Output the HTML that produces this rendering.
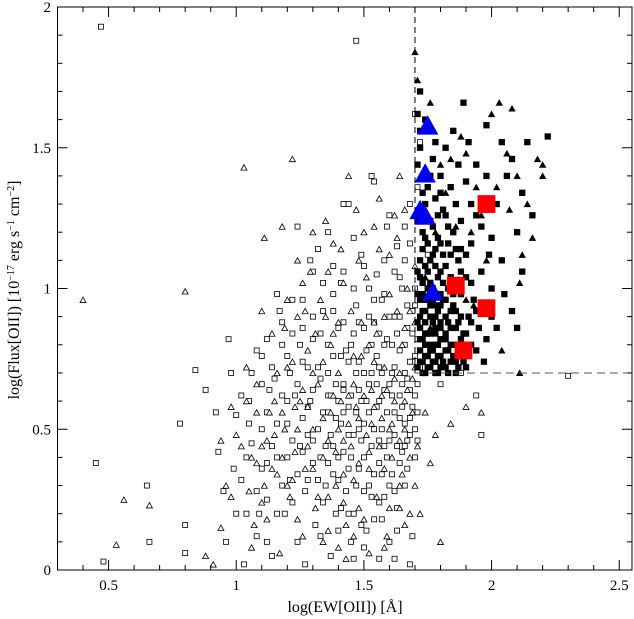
<!DOCTYPE html>
<html><head><meta charset="utf-8"><style>
html,body{margin:0;padding:0;background:#fff;}
svg{display:block;font-family:"Liberation Serif",serif;}
</style></head><body>
<svg id="chart" width="634" height="619" viewBox="0 0 634 619" xmlns="http://www.w3.org/2000/svg">
<g id="marks"></g>
<g id="axes"></g>
<text x="345" y="612" font-size="16" text-anchor="middle">log(EW[OII]) [Å]</text>
<text transform="translate(19,290) rotate(-90)" font-size="16" text-anchor="middle">log(Flux[OII]) [10<tspan baseline-shift="super" font-size="10">−17</tspan> erg s<tspan baseline-shift="super" font-size="10">−1</tspan> cm<tspan baseline-shift="super" font-size="10">−2</tspan>]</text>
</svg>
<script>
const xTicks=[0.5,1,1.5,2,2.5];
const xTickLabels=["0.5","1","1.5","2","2.5"];
const yTicks=[0,0.5,1,1.5,2];
const yTickLabels=["0","0.5","1","1.5","2"];
const openSquares=[[0.47,1.93],[1.47,1.88],[0.45,0.38],[0.48,0.03],[0.65,0.30],[0.66,0.10],[0.78,0.52],[0.80,0.06],[0.80,0.16],[0.84,0.71],[0.88,0.64],[0.93,0.42],[0.95,0.28],[0.97,0.82],[0.98,0.70],[1.00,0.55],[1.02,0.32],[1.03,0.02],[1.05,0.60],[1.06,0.45],[1.08,0.12],[1.08,0.78],[1.10,0.36],[1.12,0.25],[1.12,0.56],[1.14,0.05],[1.15,0.68],[1.16,0.40],[1.18,0.88],[1.19,0.20],[1.20,0.52],[1.21,0.32],[1.22,0.96],[1.23,0.62],[1.24,0.10],[1.25,0.44],[1.26,0.74],[1.27,0.28],[1.28,0.58],[1.29,1.10],[1.30,0.38],[1.30,0.82],[1.31,0.16],[1.32,0.50],[1.33,0.68],[1.34,0.92],[1.34,0.24],[1.35,0.44],[1.36,0.62],[1.36,1.20],[1.37,0.05],[1.38,0.34],[1.38,0.76],[1.39,0.54],[1.40,0.86],[1.40,0.14],[1.41,1.02],[1.42,0.42],[1.42,0.66],[1.43,0.28],[1.44,0.58],[1.44,1.30],[1.45,0.80],[1.46,0.20],[1.46,0.48],[1.47,0.94],[1.47,0.70],[1.48,0.36],[1.49,0.60],[1.49,1.12],[1.50,0.08],[1.50,0.52],[1.51,0.78],[1.52,0.30],[1.52,0.66],[1.53,1.40],[1.53,0.44],[1.54,0.88],[1.54,0.18],[1.55,0.58],[1.55,1.05],[1.56,0.72],[1.56,0.38],[1.57,0.50],[1.57,0.96],[1.58,0.26],[1.58,0.64],[1.59,0.82],[1.59,1.22],[1.60,0.46],[1.60,0.10],[1.61,0.70],[1.61,0.34],[1.62,0.90],[1.62,0.56],[1.63,1.15],[1.63,0.22],[1.64,0.62],[1.64,0.78],[1.65,0.42],[1.65,1.00],[1.66,0.52],[1.66,0.30],[1.67,0.86],[1.67,0.68],[1.68,1.30],[1.68,0.48],[1.69,0.74],[1.69,0.58],[1.70,1.62],[1.70,0.94],[1.70,0.40],[1.71,0.66],[1.71,1.36],[1.72,0.72],[1.72,1.52],[1.26,0.86],[1.18,0.62],[1.44,0.74],[1.50,0.86],[1.58,0.44],[1.62,0.72],[1.66,0.80],[1.68,0.64],[1.64,0.54],[1.55,0.66],[1.48,0.50],[1.40,0.60],[1.36,0.80],[1.30,0.64],[1.22,0.46],[1.12,0.82],[1.04,0.20],[1.58,1.10],[1.52,1.00],[1.66,1.10],[1.60,1.26],[1.46,1.18],[1.54,1.38],[1.64,0.90],[1.69,0.84],[1.70,0.76],[1.67,0.46],[1.61,0.62],[1.56,0.84],[1.50,0.70],[1.42,0.88],[1.34,0.56],[1.28,0.72],[1.20,0.76],[1.10,0.66],[1.00,0.20],[1.72,0.96],[1.74,0.70],[1.80,0.66],[1.88,0.70],[1.94,0.62],[1.96,0.48],[2.30,0.69],[1.75,1.12],[1.73,1.40],[1.30,0.90],[1.38,1.08],[1.46,0.04],[1.56,0.04],[1.62,0.04],[1.68,0.02],[1.42,1.30],[1.32,1.14],[1.24,1.22],[1.16,0.98]];
const openSquares2=[[1.35,0.30],[1.37,0.48],[1.39,0.66],[1.41,0.22],[1.43,0.78],[1.45,0.40],[1.47,0.56],[1.49,0.16],[1.51,0.60],[1.53,0.26],[1.55,0.76],[1.57,0.34],[1.59,0.56],[1.61,0.80],[1.63,0.44],[1.65,0.66],[1.67,0.36],[1.69,0.92],[1.36,0.70],[1.38,0.92],[1.40,0.40],[1.42,0.56],[1.44,0.20],[1.46,0.84],[1.48,0.64],[1.50,0.40],[1.52,0.90],[1.54,0.50],[1.56,0.60],[1.58,0.80],[1.60,0.30],[1.62,0.48],[1.64,1.04],[1.66,0.70],[1.68,0.54],[1.70,0.62],[1.30,0.46],[1.28,0.32],[1.26,0.54],[1.24,0.66],[1.22,0.24],[1.20,0.40],[1.18,0.30],[1.16,0.52],[1.14,0.44],[1.12,0.38],[1.10,0.50],[1.08,0.28],[1.06,0.70],[1.04,0.40],[1.02,0.62],[0.99,0.36],[0.96,0.10],[0.92,0.56],[1.33,0.12],[1.39,0.20],[1.45,0.10],[1.51,0.14],[1.57,0.18],[1.63,0.14],[1.69,0.12],[1.27,0.02],[1.33,0.84],[1.41,0.76],[1.47,0.30],[1.53,0.70],[1.59,0.40],[1.65,0.58],[1.71,0.56],[1.71,0.82],[1.70,1.00],[1.68,1.16],[1.66,1.22],[1.62,1.06],[1.58,0.98],[1.54,0.96],[1.50,1.08],[1.46,1.00],[1.42,1.06],[1.38,0.98],[1.34,1.02],[1.30,1.06],[1.26,0.96],[1.22,0.84],[1.18,0.80],[1.14,0.72],[1.10,0.76],[1.40,0.32],[1.44,0.48],[1.48,0.74],[1.52,0.56],[1.56,0.46],[1.60,0.66],[1.64,0.38],[1.68,0.74],[1.36,0.56],[1.32,0.72],[1.28,0.48],[1.24,0.34],[1.20,0.60],[1.16,0.20],[1.12,0.10],[1.36,0.38],[1.42,0.64],[1.48,0.88],[1.54,0.34],[1.60,0.90],[1.66,0.44],[1.62,0.28],[1.56,0.24],[1.50,0.28],[1.44,0.36],[1.38,0.44],[1.32,0.32],[1.26,0.42],[1.70,0.50],[1.71,0.46],[1.67,0.94],[1.63,0.84],[1.57,0.70],[1.53,0.80],[1.49,0.46],[1.45,0.62],[1.41,0.52],[1.37,0.62],[1.33,0.40],[1.29,0.60],[1.25,0.80],[1.21,0.70],[1.17,0.92],[1.13,0.64],[1.09,0.20],[1.05,0.52]];
const openTriangles=[[0.40,0.96],[0.56,0.25],[0.53,0.09],[0.66,0.23],[0.80,0.99],[0.88,0.05],[0.91,0.02],[0.94,0.15],[0.96,0.30],[1.00,0.48],[1.03,1.43],[1.05,0.28],[1.06,0.08],[1.08,0.66],[1.10,0.44],[1.11,1.18],[1.12,0.18],[1.13,0.56],[1.14,0.84],[1.16,0.34],[1.17,0.06],[1.18,1.22],[1.19,0.50],[1.20,0.72],[1.21,0.26],[1.22,1.46],[1.23,0.42],[1.24,0.90],[1.25,0.60],[1.26,0.12],[1.27,0.36],[1.28,0.78],[1.29,1.06],[1.30,0.50],[1.31,0.22],[1.32,0.66],[1.33,0.96],[1.34,0.40],[1.35,1.24],[1.36,0.14],[1.37,0.56],[1.38,0.84],[1.39,0.30],[1.40,0.70],[1.41,1.14],[1.42,0.46],[1.43,0.04],[1.44,0.62],[1.45,0.92],[1.46,0.32],[1.47,1.28],[1.48,0.54],[1.49,0.76],[1.50,0.18],[1.51,1.04],[1.52,0.42],[1.53,0.64],[1.54,0.88],[1.55,0.26],[1.56,1.32],[1.57,0.54],[1.58,0.72],[1.59,0.12],[1.60,0.98],[1.61,0.40],[1.62,0.60],[1.63,1.18],[1.64,0.30],[1.65,0.80],[1.66,0.50],[1.67,1.00],[1.68,0.20],[1.69,0.68],[1.70,1.08],[1.71,0.44],[1.72,0.82],[1.74,0.56],[1.78,0.48],[1.84,0.52],[1.90,0.58],[1.96,0.56],[1.04,0.72],[1.15,0.60],[1.22,0.32],[1.28,0.58],[1.34,0.74],[1.40,0.50],[1.46,0.66],[1.52,0.80],[1.58,0.36],[1.64,0.70],[1.68,0.92],[1.62,1.26],[1.56,1.14],[1.50,1.20],[1.44,1.40],[1.38,1.16],[1.26,1.02],[1.20,0.96],[1.10,0.92],[1.66,0.60],[1.60,0.50],[1.54,0.58],[1.48,0.38],[1.42,0.24],[1.36,0.46],[1.30,0.36],[1.24,0.18],[1.70,0.30],[1.18,0.40],[1.08,0.38],[0.98,0.58],[1.64,1.40],[1.66,0.16],[1.72,0.20],[1.76,0.38],[1.80,0.10]];
const openTriangles2=[[1.36,0.26],[1.38,0.62],[1.40,0.88],[1.42,0.34],[1.44,0.52],[1.46,0.76],[1.48,0.22],[1.50,0.62],[1.52,0.36],[1.54,0.74],[1.56,0.44],[1.58,0.90],[1.60,0.22],[1.62,0.68],[1.64,0.46],[1.66,0.86],[1.68,0.40],[1.70,0.72],[1.34,0.54],[1.32,0.26],[1.30,0.70],[1.28,0.44],[1.26,0.64],[1.24,0.50],[1.22,0.74],[1.20,0.30],[1.18,0.56],[1.16,0.70],[1.14,0.36],[1.12,0.46],[1.10,0.24],[1.08,0.56],[1.06,0.40],[1.04,0.60],[1.02,0.44],[0.98,0.26],[0.94,0.46],[1.37,0.80],[1.41,0.60],[1.45,0.44],[1.49,0.88],[1.53,0.52],[1.57,0.62],[1.61,0.52],[1.65,0.34],[1.69,0.56],[1.39,0.42],[1.43,0.16],[1.47,0.58],[1.51,0.48],[1.55,0.84],[1.59,0.64],[1.63,0.92],[1.67,0.64],[1.35,0.90],[1.31,0.84],[1.27,0.92],[1.23,0.58],[1.19,0.86],[1.15,0.48],[1.11,0.30],[1.07,0.16],[1.42,1.02],[1.48,1.10],[1.54,1.22],[1.60,1.12],[1.66,1.28],[1.36,1.06],[1.30,1.20],[1.24,1.10],[1.70,0.88],[1.64,0.22],[1.58,0.08],[1.52,0.06],[1.46,0.12],[1.40,0.08],[1.34,0.10]];
const filledSquares=[[1.71,0.72],[1.72,0.78],[1.72,0.86],[1.73,0.74],[1.73,0.92],[1.73,1.02],[1.74,0.80],[1.74,0.70],[1.74,0.88],[1.75,0.76],[1.75,0.96],[1.75,1.06],[1.76,0.72],[1.76,0.84],[1.76,0.90],[1.77,0.78],[1.77,1.00],[1.77,1.12],[1.78,0.74],[1.78,0.86],[1.78,0.94],[1.79,0.80],[1.79,1.04],[1.79,0.70],[1.80,0.88],[1.80,0.76],[1.80,1.16],[1.81,0.82],[1.81,0.96],[1.82,0.72],[1.82,0.90],[1.82,1.08],[1.83,0.78],[1.83,1.00],[1.84,0.86],[1.84,0.74],[1.85,0.94],[1.85,1.20],[1.86,0.80],[1.86,0.70],[1.87,0.88],[1.87,1.10],[1.88,0.76],[1.88,0.98],[1.89,0.84],[1.90,1.04],[1.90,0.72],[1.91,0.90],[1.92,1.16],[1.92,0.80],[1.93,0.96],[1.94,1.26],[1.95,0.86],[1.96,1.06],[1.97,0.74],[1.98,1.40],[1.99,1.12],[2.00,0.90],[2.02,1.30],[2.05,0.98],[2.08,1.46],[2.10,1.20],[2.12,1.06],[1.72,1.10],[1.73,1.20],[1.74,1.30],[1.75,1.36],[1.76,1.24],[1.77,1.46],[1.78,1.32],[1.79,1.18],[1.80,1.40],[1.81,1.28],[1.82,1.50],[1.83,1.22],[1.84,1.36],[1.85,1.56],[1.86,1.30],[1.87,1.44],[1.88,1.24],[1.89,1.66],[1.90,1.38],[1.91,1.52],[1.92,1.30],[1.94,1.44],[1.96,1.22],[1.98,1.58],[2.00,1.18],[2.04,1.52],[2.06,1.40],[2.14,1.52],[2.22,1.54],[1.71,1.62],[1.72,1.50],[1.74,1.18],[1.76,1.02],[1.78,1.08],[1.80,0.98],[1.82,0.84],[1.84,1.04],[1.86,0.92],[1.88,1.14],[1.90,0.84],[1.92,1.02],[1.94,0.78],[1.96,0.94],[1.98,0.82],[2.00,1.00],[2.02,0.86],[2.04,1.10],[2.08,0.92],[2.10,0.86],[2.12,1.34],[2.16,1.26],[1.72,0.96],[1.74,0.92],[1.76,0.96],[1.78,0.80],[1.80,0.82],[1.82,0.78],[1.84,0.80],[1.86,0.86],[1.88,0.90],[1.73,0.82],[1.75,0.84],[1.77,0.88],[1.79,0.92],[1.81,0.74],[1.83,0.70],[1.85,0.76],[1.87,0.72],[1.89,0.74],[1.71,0.98],[1.71,1.06],[1.71,0.88],[1.71,1.24],[1.71,1.44]];
const filledSquares2=[[1.72,0.74],[1.73,0.70],[1.74,0.76],[1.75,0.72],[1.76,0.78],[1.77,0.74],[1.78,0.70],[1.79,0.76],[1.80,0.72],[1.72,0.82],[1.74,0.84],[1.76,0.80],[1.78,0.84],[1.80,0.86],[1.82,0.82],[1.72,0.90],[1.74,0.96],[1.76,0.94],[1.78,0.90],[1.80,0.94],[1.73,0.98],[1.75,1.00],[1.77,0.96],[1.79,0.98],[1.81,1.02],[1.72,1.04],[1.74,1.08],[1.76,1.10],[1.78,1.14],[1.80,1.06],[1.73,1.14],[1.75,1.16],[1.77,1.22],[1.79,1.26],[1.81,1.12],[1.83,1.16],[1.84,0.92],[1.85,0.98],[1.83,0.88],[1.86,0.74],[1.88,0.82],[1.90,0.78],[1.92,0.88],[1.94,0.92],[1.82,0.96],[1.84,1.12],[1.86,1.14],[1.88,1.06],[1.90,1.12],[1.73,1.34],[1.76,1.40],[1.78,1.52],[1.72,1.56],[1.74,1.60],[1.80,1.34],[1.82,1.26],[1.72,1.70]];
const filledTriangles=[[1.70,1.84],[1.71,1.74],[1.76,1.66],[1.82,1.34],[1.84,1.46],[1.86,1.22],[1.88,1.54],[1.90,1.48],[1.94,1.36],[1.96,1.26],[1.98,1.10],[2.00,1.62],[2.02,1.36],[2.03,1.66],[2.06,1.48],[2.07,1.28],[2.08,1.64],[2.10,1.40],[2.12,1.12],[2.14,1.30],[2.16,1.18],[2.18,1.46],[2.20,1.40],[2.11,1.02],[1.92,1.20],[1.80,1.44],[1.78,1.20],[1.74,1.04],[1.76,0.86],[1.86,1.02],[1.93,0.94],[2.04,0.78],[2.11,0.70],[1.90,0.96],[2.20,1.44]];
const bigTriangles=[[1.75,1.58],[1.74,1.41],[1.72,1.28],[1.74,1.26],[1.77,0.99]];
const bigSquares=[[1.98,1.30],[1.86,1.01],[1.98,0.93],[1.89,0.78]];
const cutX=[1.7], cutY=[0.7];

const L=57.5,R=632,T=7,B=570,X0=0.3,X1=2.55,Y0=0,Y1=2;
const sx=v=>L+(v-X0)/(X1-X0)*(R-L);
const sy=v=>B-(v-Y0)/(Y1-Y0)*(B-T);
const NS="http://www.w3.org/2000/svg";
const marks=document.getElementById('marks'),axes=document.getElementById('axes');
function mk(tag,attrs,parent){const e=document.createElementNS(NS,tag);for(const k in attrs)e.setAttribute(k,attrs[k]);parent.appendChild(e);return e;}
function sq(p,s,fill,stroke,name){const e=mk('rect',{x:sx(p[0])-s/2,y:sy(p[1])-s/2,width:s,height:s,fill:fill,stroke:stroke,'stroke-width':0.8},marks);

}
function tri(p,s,fill,stroke,name){const x=sx(p[0]),y=sy(p[1]),h=s*0.9;const e=mk('polygon',{points:`${x-s/2},${y+h/2} ${x+s/2},${y+h/2} ${x},${y-h/2}`,fill:fill,stroke:stroke,'stroke-width':0.8},marks);

}
openSquares.concat(openSquares2).forEach(p=>sq(p,5,'#fff','#000','open-square-point'));
openTriangles.concat(openTriangles2).forEach(p=>tri(p,6,'#fff','#000','open-triangle-point'));
filledSquares.concat(filledSquares2).forEach(p=>sq(p,5.5,'#000','#000','filled-square-point'));
filledTriangles.forEach(p=>tri(p,6,'#000','#000','filled-triangle-point'));
let d1=mk('line',{x1:sx(cutX[0]),y1:T,x2:sx(cutX[0]),y2:sy(cutY[0]),stroke:'#000','stroke-dasharray':'6,4','stroke-width':1},marks);


let d2=mk('line',{x1:sx(cutX[0]),y1:sy(cutY[0]),x2:R,y2:sy(cutY[0]),stroke:'#555','stroke-dasharray':'8,5','stroke-width':1},marks);


bigTriangles.forEach(p=>tri(p,20,'#0000ee','#0000ee','stacked-triangle-point'));
bigSquares.forEach(p=>sq(p,17,'#ff0000','#ff0000','stacked-square-point'));
let fr=mk('rect',{x:L,y:T,width:R-L,height:B-T,fill:'none',stroke:'#000','stroke-width':1},axes);


for(let i=3;i<=25;i++){const v=i/10,x=sx(v),maj=(i%5===0),len=maj?10:5;
mk('line',{x1:x,y1:B,x2:x,y2:B-len,stroke:'#000'},axes);mk('line',{x1:x,y1:T,x2:x,y2:T+len,stroke:'#000'},axes);}
for(let i=0;i<=20;i++){const v=i/10,y=sy(v),maj=(i%5===0),len=maj?10:5;
mk('line',{x1:L,y1:y,x2:L+len,y2:y,stroke:'#000'},axes);mk('line',{x1:R,y1:y,x2:R-len,y2:y,stroke:'#000'},axes);}
xTicks.forEach((v,i)=>{const t=mk('text',{x:sx(v),y:590,'font-size':15,'text-anchor':'middle'},axes);t.textContent=xTickLabels[i];

});
yTicks.forEach((v,i)=>{const t=mk('text',{x:51,y:sy(v)+5,'font-size':15,'text-anchor':'end'},axes);t.textContent=yTickLabels[i];

});
</script>
</body></html>
